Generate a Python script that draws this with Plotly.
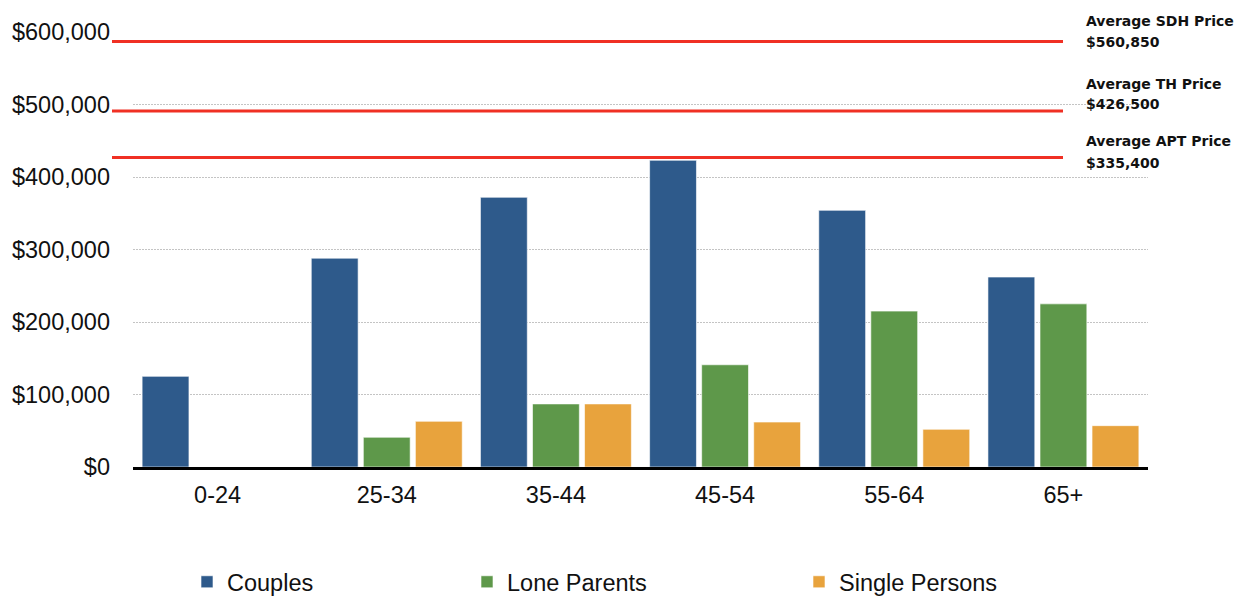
import plotly.graph_objects as go

categories = ["0-24", "25-34", "35-44", "45-54", "55-64", "65+"]
couples = [125000, 288000, 372000, 423000, 354000, 262000]
lone_parents = [0, 41000, 87000, 141000, 215000, 225000]
single_persons = [0, 63000, 87000, 62000, 52000, 57000]

series_names = ["Couples", "Lone Parents", "Single Persons"]
series_colors = ["#2E5A8B", "#5E984A", "#E8A33D"]

ref_titles = ["Average SDH Price", "Average TH Price", "Average APT Price"]
ref_labels = ["$560,850", "$426,500", "$335,400"]
ref_line_levels = [587000, 491000, 427000]

y_ticks = [0, 100000, 200000, 300000, 400000, 500000, 600000]
y_ticktext = ["$0", "$100,000", "$200,000", "$300,000", "$400,000", "$500,000", "$600,000"]

fig = go.Figure()
legend_ids = ["legend", "legend2", "legend3"]
for name, vals, col, lg in zip(series_names, [couples, lone_parents, single_persons], series_colors, legend_ids):
    fig.add_trace(go.Bar(
        x=categories, y=vals, name=name,
        marker=dict(color=col, line=dict(color="rgba(255,255,255,0.6)", width=1)),
        legend=lg, showlegend=True,
    ))

W, H = 1237, 596
ml, mr, mt, mb = 133, 89, 32, 129
pw = W - ml - mr
ph = H - mt - mb

def px_x(p):
    return (p - ml) / pw

def px_y(p):
    return (H - mb - p) / ph

shapes = []
for lvl in ref_line_levels:
    shapes.append(dict(type="line", xref="paper", yref="y",
                       x0=px_x(112), x1=px_x(1063), y0=lvl, y1=lvl,
                       line=dict(color="#F03024", width=3), layer="above"))

title_px = [21, 84, 141]
value_px = [42, 104, 163]
annotations = []
afont = dict(family="DejaVu Sans", size=14, color="#111111")
for t, v, tp, vp in zip(ref_titles, ref_labels, title_px, value_px):
    annotations.append(dict(text="<b>" + t + "</b>", xref="paper", yref="paper",
                            x=px_x(1084), y=px_y(tp), xanchor="left", yanchor="middle",
                            showarrow=False, font=afont))
    annotations.append(dict(text="<b>" + v + "</b>", xref="paper", yref="paper",
                            x=px_x(1084), y=px_y(vp), xanchor="left", yanchor="middle",
                            showarrow=False, font=afont))

legend_common = dict(orientation="h", font=dict(family="Liberation Sans, Arial", size=23.5, color="#111111"),
                     bgcolor="rgba(0,0,0,0)", xanchor="left", yanchor="middle", itemwidth=30,
                     xref="container", yref="container")
legend_x_px = [187, 467, 799]
legend_y = 1 - 582 / H

fig.update_layout(
    width=W, height=H,
    margin=dict(l=ml, r=mr, t=mt, b=mb, autoexpand=False),
    paper_bgcolor="white", plot_bgcolor="white",
    barmode="group", bargap=0.077, bargroupgap=0.1,
    showlegend=True,
    font=dict(family="Liberation Sans, Arial", size=23.5, color="#111111"),
    shapes=shapes, annotations=annotations,
    legend=dict(x=legend_x_px[0] / W, y=legend_y, **legend_common),
    legend2=dict(x=legend_x_px[1] / W, y=legend_y, **legend_common),
    legend3=dict(x=legend_x_px[2] / W, y=legend_y, **legend_common),
    xaxis=dict(showline=True, linecolor="black", linewidth=3, ticks="",
               tickfont=dict(size=23.5), ticklabelstandoff=5, showgrid=False),
    yaxis=dict(range=[0, 600000], tickvals=y_ticks, ticktext=y_ticktext,
               showgrid=True, gridcolor="#C4C4C4", griddash="2px,1px", gridwidth=1,
               zeroline=False, showline=False, ticks="", ticklabelstandoff=22,
               tickfont=dict(size=23.5)),
)

fig.write_html("out.html")
